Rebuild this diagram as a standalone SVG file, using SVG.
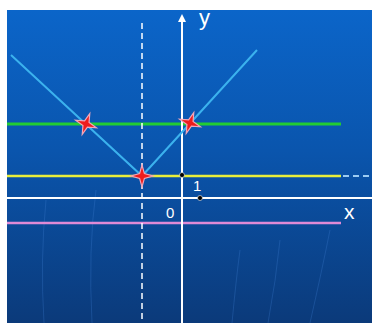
<svg xmlns="http://www.w3.org/2000/svg" width="372" height="323" viewBox="0 0 372 323">
<style>
.lbl{font-family:"Liberation Sans",Arial,sans-serif;fill:#ffffff}
.faint{fill:none;stroke:#3f7fd0;stroke-opacity:0.3;stroke-width:1}
</style>
<defs>
<linearGradient id="bg" x1="0" y1="0" x2="0" y2="1">
<stop offset="0" stop-color="#0b65c9"/>
<stop offset="0.45" stop-color="#0a55ad"/>
<stop offset="1" stop-color="#0b3a7a"/>
</linearGradient>
<path id="star" d="M0,-11 L2.4,-2.4 L11,0 L2.4,2.4 L0,11 L-2.4,2.4 L-11,0 L-2.4,-2.4 Z"/>
<marker id="arr" viewBox="0 0 10 10" refX="5" refY="5" markerWidth="4" markerHeight="4" orient="auto-start-reverse"><path d="M0,0 L10,5 L0,10 Z" fill="#ffffff"/></marker>
</defs>
<rect width="372" height="323" fill="#ffffff"/>
<rect x="7" y="10" width="365" height="313" fill="url(#bg)"/>
<g id="background-lines">
<path class="faint" d="M44,323 Q40,260 46,200"/>
<path class="faint" d="M92,323 Q88,250 96,190"/>
<path class="faint" d="M268,323 Q276,280 280,240"/>
<path class="faint" d="M310,323 Q322,270 330,230"/>
<path class="faint" d="M232,323 Q236,280 240,250"/>
</g>
<g id="connectors">
<line x1="7" y1="124" x2="341" y2="124" stroke="#22cc33" stroke-width="3"/>
<line x1="7" y1="176" x2="341" y2="176" stroke="#e8ee3a" stroke-width="2.5"/>
<line x1="343" y1="176" x2="372" y2="176" stroke="#9ccbf2" stroke-width="2" stroke-dasharray="6,4"/>
<line x1="7" y1="198" x2="372" y2="198" stroke="#ffffff" stroke-width="2"/>
<line x1="7" y1="223" x2="341" y2="223" stroke="#e08ad6" stroke-width="2.5"/>
<line x1="142" y1="23" x2="142" y2="323" stroke="#ffffff" stroke-width="1.5" stroke-dasharray="6,4"/>
<line x1="182" y1="323" x2="182" y2="18" stroke="#ffffff" stroke-width="2" marker-end="url(#arr)"/>
<polyline points="11,55 142,176 257,50" fill="none" stroke="#3bb2ee" stroke-width="2"/>
</g>
<g id="points">
<circle cx="182" cy="175" r="2.5" fill="#000000" stroke="#ffffff" stroke-width="0.6"/>
<circle cx="200" cy="198" r="2.5" fill="#000000" stroke="#ffffff" stroke-width="0.6"/>
</g>
<g id="stars" fill="#ee1c1c" stroke="#f2a6b8" stroke-width="1.2">
<use href="#star" transform="translate(86,124) rotate(20)"/>
<use href="#star" transform="translate(190,123) rotate(20)"/>
<use href="#star" transform="translate(142,176)"/>
</g>
<g id="labels">
<text class="lbl" x="199" y="25" font-size="22">y</text>
<text class="lbl" x="344" y="219" font-size="21">x</text>
<text class="lbl" x="166" y="218" font-size="15">0</text>
<text class="lbl" x="193" y="191" font-size="15">1</text>
</g>
</svg>
